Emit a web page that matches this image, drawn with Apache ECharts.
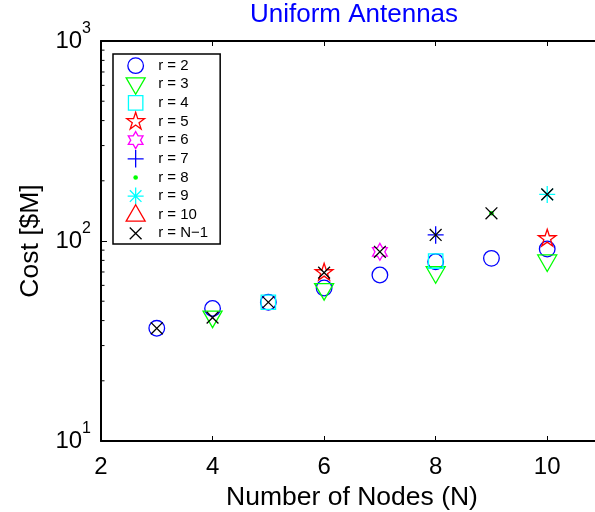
<!DOCTYPE html>
<html>
<head>
<meta charset="utf-8">
<script src="https://cdn.jsdelivr.net/npm/echarts@6/dist/echarts.min.js"></script>
<style>
  html, body { margin: 0; padding: 0; background: #fff; }
  #chart { width: 595px; height: 512px; }
</style>
</head>
<body>
<div id="chart"></div>
<script>
// Cost of a ring network with uniform antennas, by node count N and degree r
const r2Nodes = [3, 4, 5, 6, 7, 8, 9, 10];
const r2Cost  = [36.6, 46.0, 49.4, 58.2, 67.6, 78.8, 81.9, 91.2];
const r3Nodes = [4, 6, 8, 10];
const r3Cost  = [41.4, 56.8, 69.0, 79.0];
const r4Nodes = [5, 8];
const r4Cost  = [49.4, 79.4];
const r5Nodes = [6, 10];
const r5Cost  = [69.5, 102.8];
const r6Nodes = [7];
const r6Cost  = [88.3];
const r7Nodes = [8];
const r7Cost  = [107.2];
const r8Nodes = [9];
const r8Cost  = [137.6];
const r9Nodes = [10];
const r9Cost  = [171];
const r10Nodes = [];
const r10Cost  = [];
const rN1Nodes = [3, 4, 5, 6, 7, 8, 9, 10];
const rN1Cost  = [36.6, 41.4, 49.4, 69.5, 88.3, 107.2, 137.6, 171];

const seriesNames = ['r = 2', 'r = 3', 'r = 4', 'r = 5', 'r = 6', 'r = 7', 'r = 8', 'r = 9', 'r = 10', 'r = N\u22121'];
const xTickStep = 2;
const xMin = 2, xMax = 11;
const yMin = 10, yMax = 1000;
const minorTickValues = [20, 30, 40, 50, 60, 70, 80, 90, 200, 300, 400, 500, 600, 700, 800, 900];

// Marker outlines, all inside a common 20x20 frame so plot and legend share scale
const FRAME = 'M-10,-10M10,10';
function starPath(points, outer, inner) {
  let d = '';
  for (let i = 0; i < 2 * points; i++) {
    const a = -Math.PI / 2 + i * Math.PI / points;
    const rad = i % 2 ? inner : outer;
    d += (i ? 'L' : 'M') + (rad * Math.cos(a)).toFixed(2) + ',' + (rad * Math.sin(a)).toFixed(2);
  }
  return d + 'Z';
}
const SYM = {
  circle:   'path://' + FRAME + 'M7.8,0A7.8,7.8,0,1,1,-7.8,0A7.8,7.8,0,1,1,7.8,0Z',
  triDown:  'path://' + FRAME + 'M-9.5,-6.5L9.5,-6.5L0,10Z',
  square:   'path://' + FRAME + 'M-7.2,-7.2L7.2,-7.2L7.2,7.2L-7.2,7.2Z',
  penta:    'path://' + FRAME + starPath(5, 9.3, 3.55),
  hexa:     'path://' + FRAME + starPath(6, 8.5, 4.9),
  plus:     'path://' + FRAME + 'M-8,0L8,0M0,-8.8L0,8.8',
  dot:      'path://' + FRAME + 'M2.3,0A2.3,2.3,0,1,1,-2.3,0A2.3,2.3,0,1,1,2.3,0Z',
  aster:    'path://' + FRAME + 'M-8,0L8,0M0,-8.5L0,8.5M-5.8,-5.8L5.8,5.8M-5.8,5.8L5.8,-5.8',
  triUp:    'path://' + FRAME + 'M-9.5,6.5L9.5,6.5L0,-10Z',
  cross:    'path://' + FRAME + 'M-5.9,-5.9L5.9,5.9M-5.9,5.9L5.9,-5.9'
};

const specs = [
  { nodes: r2Nodes,  cost: r2Cost,  symbol: SYM.circle,  color: '#0000FF', filled: false },
  { nodes: r3Nodes,  cost: r3Cost,  symbol: SYM.triDown, color: '#00FF00', filled: false },
  { nodes: r4Nodes,  cost: r4Cost,  symbol: SYM.square,  color: '#00FFFF', filled: false },
  { nodes: r5Nodes,  cost: r5Cost,  symbol: SYM.penta,   color: '#FF0000', filled: false },
  { nodes: r6Nodes,  cost: r6Cost,  symbol: SYM.hexa,    color: '#FF00FF', filled: false },
  { nodes: r7Nodes,  cost: r7Cost,  symbol: SYM.plus,    color: '#0000FF', filled: false },
  { nodes: r8Nodes,  cost: r8Cost,  symbol: SYM.dot,     color: '#00FF00', filled: true  },
  { nodes: r9Nodes,  cost: r9Cost,  symbol: SYM.aster,   color: '#00FFFF', filled: false },
  { nodes: r10Nodes, cost: r10Cost, symbol: SYM.triUp,   color: '#FF0000', filled: false },
  { nodes: rN1Nodes, cost: rN1Cost, symbol: SYM.cross,   color: '#000000', filled: false }
];

const FONT = 'Liberation Sans, Arial, Helvetica, sans-serif';
const CLEAR = 'rgba(255,255,255,0)';

const scatterSeries = specs.map((s, i) => ({
  name: seriesNames[i],
  type: 'scatter',
  xAxisIndex: 0,
  yAxisIndex: 0,
  symbol: s.symbol,
  symbolSize: 20,
  symbolKeepAspect: true,
  silent: true,
  itemStyle: {
    color: s.filled ? s.color : CLEAR,
    borderColor: s.filled ? CLEAR : s.color,
    borderWidth: 1.3,
    opacity: 1
  },
  emphasis: { disabled: true },
  data: s.nodes.map((n, k) => [n, s.cost[k]])
}));

// Minor ticks of the logarithmic cost axis
const minorTickSeries = {
  type: 'custom',
  xAxisIndex: 0,
  yAxisIndex: 0,
  silent: true,
  clip: false,
  data: minorTickValues.map(v => [xMin, v]),
  renderItem: function (params, api) {
    const p = api.coord([api.value(0), api.value(1)]);
    return {
      type: 'line',
      shape: { x1: p[0], y1: p[1], x2: p[0] + 3.5, y2: p[1] },
      style: { stroke: '#000', lineWidth: 1 }
    };
  }
};

const chart = echarts.init(document.getElementById('chart'), null, { renderer: 'canvas' });
chart.setOption({
  animation: false,
  backgroundColor: '#fff',
  title: {
    text: 'Uniform Antennas',
    left: 349,
    top: -3,
    textAlign: 'center',
    textStyle: { color: '#0000FF', fontSize: 26, fontWeight: 'normal', fontFamily: FONT }
  },
  grid: { left: 101, right: -8, top: 41, bottom: 71, outerBoundsMode: 'none', containLabel: false },
  legend: {
    data: seriesNames,
    orient: 'vertical',
    left: 113,
    top: 54,
    itemWidth: 35,
    itemHeight: 20,
    itemGap: -2.67,
    padding: [1, 12, 0, 12],
    symbolKeepAspect: true,
    borderColor: '#000',
    borderWidth: 1.5,
    backgroundColor: '#fff',
    selectedMode: false,
    itemStyle: { borderWidth: 1.3 },
    textStyle: { fontSize: 15, color: '#000', fontFamily: FONT }
  },
  xAxis: [
    {
      type: 'value',
      min: xMin,
      max: xMax,
      interval: xTickStep,
      position: 'bottom',
      name: 'Number of Nodes (N)',
      nameLocation: 'middle',
      nameGap: 38,
      nameTextStyle: { fontSize: 26.5, color: '#000', fontFamily: FONT },
      axisLine: { show: true, lineStyle: { color: '#000', width: 2 } },
      axisTick: { show: true, inside: true, length: 5, lineStyle: { color: '#000', width: 1 } },
      axisLabel: { show: true, margin: 14, fontSize: 24, color: '#000', fontFamily: FONT, showMaxLabel: false },
      splitLine: { show: false }
    },
    {
      type: 'value',
      min: xMin,
      max: xMax,
      interval: xTickStep,
      position: 'top',
      axisLine: { show: true, lineStyle: { color: '#000', width: 2 } },
      axisTick: { show: true, inside: true, length: 5, lineStyle: { color: '#000', width: 1 } },
      axisLabel: { show: false },
      splitLine: { show: false }
    }
  ],
  yAxis: {
    type: 'log',
    logBase: 10,
    min: yMin,
    max: yMax,
    name: 'Cost [$M]',
    nameLocation: 'middle',
    nameGap: 57,
    nameTextStyle: { fontSize: 26.5, color: '#000', fontFamily: FONT },
    axisLine: { show: true, lineStyle: { color: '#000', width: 2 } },
    axisTick: { show: true, inside: true, length: 6, lineStyle: { color: '#000', width: 1 } },
    splitLine: { show: false },
    minorTick: { show: false },
    axisLabel: {
      margin: 10,
      formatter: function (v) {
        return '{b|10}{s|' + Math.round(Math.log10(v)) + '}';
      },
      rich: {
        b: { fontSize: 24, lineHeight: 40, verticalAlign: 'middle', color: '#000', fontFamily: FONT },
        s: { fontSize: 16, lineHeight: 16, verticalAlign: 'top', color: '#000', fontFamily: FONT }
      }
    }
  },
  series: scatterSeries.concat([minorTickSeries])
});
</script>
</body>
</html>
